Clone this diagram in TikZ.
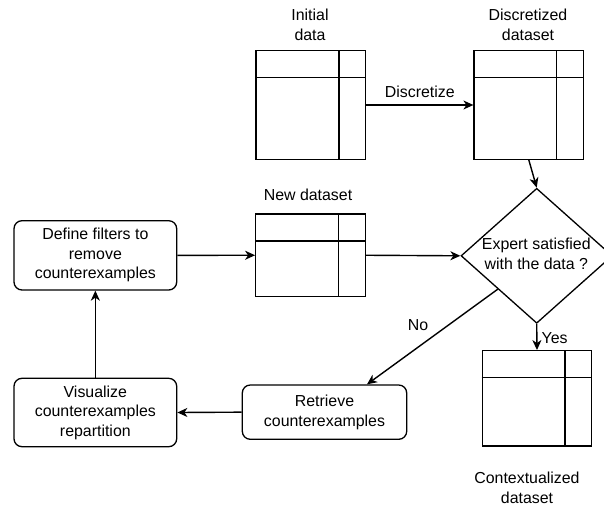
\documentclass[tikz,border=0pt]{standalone}
\usepackage{fontspec}
\setmainfont{Liberation Sans}
\usetikzlibrary{arrows.meta,shapes.geometric,calc}
\tikzset{
  lbl/.style={align=center,inner sep=0pt,font=\fontsize{15.9}{19.5}\selectfont},
  procbox/.style={draw,rounded corners=8pt,line width=1.3pt,minimum width=162.7pt,align=center,inner sep=0pt,font=\fontsize{15.9}{19.5}\selectfont},
  tablebox/.style={draw,line width=1.3pt,minimum width=109.5pt,inner sep=0pt},
  conn/.style={line width=1.4pt,-{Stealth[length=10pt,width=9pt,inset=3pt]}},
  tline/.style={line width=1.3pt}
}
\newcommand{\tablelines}[1]{%
  \draw[tline] ([yshift=-27.5pt]#1.north west) -- ([yshift=-27.5pt]#1.north east);
  \draw[tline] ([xshift=-27.4pt]#1.north east) -- ([xshift=-27.4pt]#1.south east);
}
\begin{document}
\begin{tikzpicture}[x=1pt,y=-1pt]
\useasboundingbox (0,0) rectangle (604,508);
\clip (0,0) rectangle (604,508);

% tables
\node[tablebox,minimum height=108.6pt] (init) at (310.85,105) {};
\tablelines{init}
\node[tablebox,minimum height=108.6pt] (disc) at (528.8,105) {};
\tablelines{disc}
\node[tablebox,minimum height=82.5pt] (newds) at (310.5,255.25) {};
\tablelines{newds}
\node[tablebox,minimum height=95.3pt] (ctx) at (537,398.35) {};
\tablelines{ctx}

% table labels
\node[lbl] (initlbl) at (310,25) {Initial\\data};
\node[lbl] (disclbl) at (528,25) {Discretized\\dataset};
\node[lbl] (newdslbl) at (308,195) {New dataset};
\node[lbl] (ctxlbl) at (527,488) {Contextualized\\dataset};

% decision
\node[draw,diamond,line width=1.3pt,minimum width=151.4pt,minimum height=135pt,inner sep=0pt] (dia) at (536.7,255.8) {};
\node[lbl] (diatext) at (536.3,253.7) {Expert satisfied\\with the data ?};

% process boxes
\node[procbox,minimum height=69.3pt] (define) at (95.35,255.35) {Define filters to\\remove\\counterexamples};
\node[procbox,minimum height=68.4pt] (visu) at (95.35,412.5) {Visualize\\counterexamples\\repartition};
\node[procbox,minimum width=164.4pt,minimum height=54.3pt] (ret) at (324.5,412.15) {Retrieve\\counterexamples};

% connectors
\draw[conn] (init.east) -- node[lbl,above=7pt] {Discretize} (disc.west);
\draw[conn] (disc.south) -- (dia.north);
\draw[conn] (define.east) -- (newds.west);
\draw[conn] (newds.east) -- (dia.west);
\draw[conn] (visu.north) -- (define.south);
\draw[conn] (ret.west) -- (visu.east);
\coordinate (nostart) at ($(dia.west)!0.49!(dia.south)$);
\coordinate (noend) at ([xshift=42.5pt]ret.north);
\draw[conn] (nostart) -- (noend);
\node[lbl] (nolbl) at (418,325) {No};
\draw[conn] (dia.south) -- (ctx.north);
\node[lbl,anchor=west] (yeslbl) at (541.5,338) {Yes};
\end{tikzpicture}
\end{document}
